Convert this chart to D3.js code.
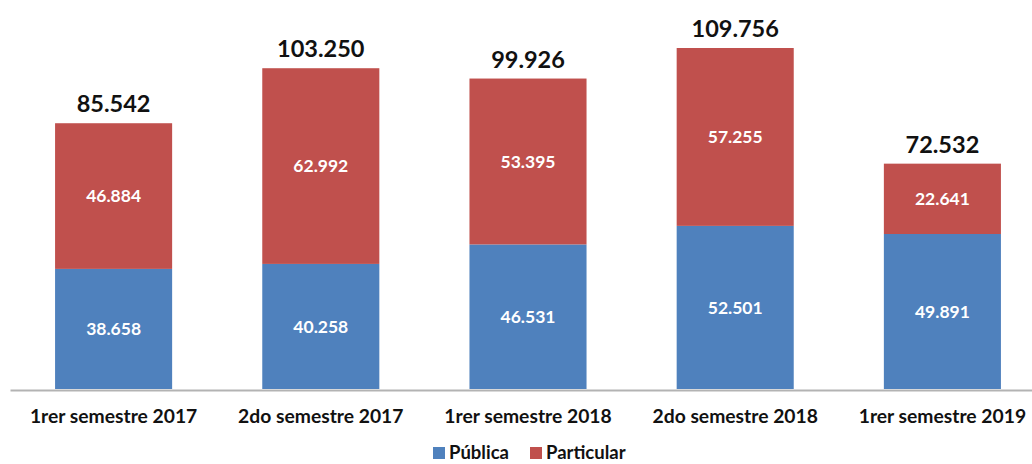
<!DOCTYPE html>
<html>
<head>
<meta charset="utf-8">
<script src="https://cdn.jsdelivr.net/npm/d3@7"></script>
<style>
  body { margin: 0; background: #fff; }
  svg { display: block; font-family: Lato, "Open Sans", sans-serif; font-weight: bold; }
  .axis path { stroke: #b3b3b3; stroke-width: 2; }
</style>
</head>
<body>
<svg width="1032" height="464"></svg>
<script>
// Matrícula por semestre -- stacked bars

var categories = ["1rer semestre 2017", "2do semestre 2017", "1rer semestre 2018",
                  "2do semestre 2018", "1rer semestre 2019"];
var publica = [38658, 40258, 46531, 52501, 49891];
var particular = [46884, 62992, 53395, 57255, 22641];
var totals = [85542, 103250, 99926, 109756, 72532];
var seriesNames = ["Pública", "Particular"];
var colors = ["#4f81bd", "#c0504d"];

var fmt = function (v) { return d3.format(",")(v).replace(/,/g, "."); };

var svg = d3.select("svg");

var rows = categories.map(function (c, i) {
  return { cat: c, "Pública": publica[i], "Particular": particular[i], total: totals[i] };
});

var x = d3.scaleBand().domain(categories).range([10, 1046])
  .paddingInner(0.435).paddingOuter(0.2175);
var y = d3.scaleLinear().domain([0, 109756]).range([389, 48]);

var stacked = d3.stack().keys(seriesNames)(rows);

var layers = svg.selectAll("g.layer")
  .data(stacked)
  .enter().append("g")
  .attr("class", "layer")
  .attr("fill", function (d, i) { return colors[i]; });

layers.selectAll("rect")
  .data(function (d) { return d; })
  .enter().append("rect")
  .attr("x", function (d) { return x(d.data.cat); })
  .attr("y", function (d) { return y(d[1]); })
  .attr("width", x.bandwidth())
  .attr("height", function (d) { return y(d[0]) - y(d[1]); });

// segment values, centred in each piece
layers.selectAll("text")
  .data(function (d) { return d; })
  .enter().append("text")
  .attr("x", function (d) { return x(d.data.cat) + x.bandwidth() / 2; })
  .attr("y", function (d) { return (y(d[0]) + y(d[1])) / 2; })
  .attr("dy", "0.35em")
  .attr("text-anchor", "middle")
  .attr("fill", "#fff")
  .style("font-size", "17.5px")
  .text(function (d) { return fmt(d[1] - d[0]); });

// totals on top
svg.selectAll("text.total")
  .data(rows)
  .enter().append("text")
  .attr("class", "total")
  .attr("x", function (d) { return x(d.cat) + x.bandwidth() / 2; })
  .attr("y", function (d) { return y(d.total) - 11; })
  .attr("text-anchor", "middle")
  .attr("fill", "#111")
  .style("font-size", "23.5px")
  .text(function (d) { return fmt(d.total); });

var axis = svg.append("g")
  .attr("class", "axis")
  .attr("transform", "translate(0,390)")
  .call(d3.axisBottom(x).tickSize(0).tickPadding(19));
axis.selectAll("text")
  .attr("fill", "#111")
  .style("font-size", "19.3px")
  .style("font-family", "Lato, 'Open Sans', sans-serif")
  .style("font-weight", "bold");

// legend (kept a bit above the bottom edge so nothing is clipped)
var legend = svg.append("g").attr("transform", "translate(433,447)");
var legendX = [0, 97];
seriesNames.forEach(function (name, i) {
  var g = legend.append("g").attr("transform", "translate(" + legendX[i] + ",0)");
  g.append("rect").attr("width", 12).attr("height", 12).attr("fill", colors[i]);
  g.append("text").attr("x", 16).attr("y", 12)
    .attr("fill", "#111").style("font-size", "18.5px").text(name);
});
</script>
</body>
</html>
